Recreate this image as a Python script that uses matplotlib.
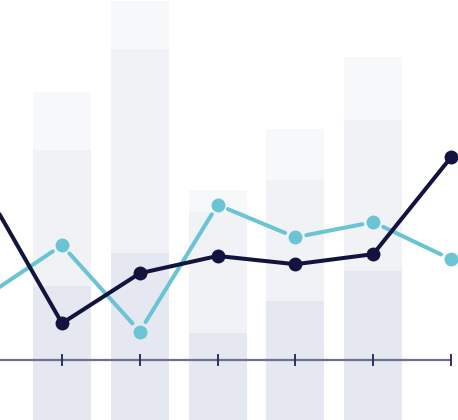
import numpy as np
import matplotlib.pyplot as plt

# positions: -1 sits just off the left edge
x = np.arange(-1, 6)
bar_x = np.arange(0, 5)

# stacked bars, values from a base of -20 (below the visible area)
base = -20
seg_low = [40.6, 49.6, 27.6, 36.5, 44.7]
seg_mid = [37.7, 56.8, 33.5, 33.5, 42.0]
seg_top = [16.1, 13.3, 6.1, 14.1, 17.6]

dark = [47.9, 10.2, 24.1, 28.9, 26.6, 29.4, 56.3]
teal = [17.4, 31.9, 7.9, 43.1, 34.1, 38.3, 28.0]

tick_x = np.arange(0, 6)

c_dark = '#13133f'
c_teal = '#6ac4d4'
c_low, c_mid, c_top = '#e5e8f0', '#f1f2f6', '#f7f8f9'

fig = plt.figure(figsize=(4.58, 4.2), dpi=100)
ax = fig.add_axes([0, 0, 1, 1])
ax.set_xlim(-0.797, 5.09)
ax.set_ylim(-16.67, 100)
ax.axis('off')

w = 0.746
low = np.array(seg_low)
mid = np.array(seg_mid)
ax.bar(bar_x, low, w, bottom=base, color=c_low, zorder=1)
ax.bar(bar_x, mid, w, bottom=base + low, color=c_mid, zorder=1)
ax.bar(bar_x, seg_top, w, bottom=base + low + mid, color=c_top, zorder=1)

# baseline with ticks
ax.hlines(0, -1, 5, color='#6e7090', lw=1.6, zorder=2)
ax.vlines(tick_x, -1.6, 1.6, color='#23245a', lw=1.3, zorder=2)

# teal line: segments stop short of the markers
for i in range(len(x) - 1):
    ax.annotate('', xy=(x[i + 1], teal[i + 1]), xytext=(x[i], teal[i]),
                annotation_clip=False, zorder=3,
                arrowprops=dict(arrowstyle='-', color=c_teal, lw=2.9,
                                shrinkA=8, shrinkB=8))
ax.plot(x, teal, 'o', color=c_teal, ms=10, mec='none', zorder=3)

ax.plot(x, dark, '-o', color=c_dark, lw=2.9, ms=10, mec='none', zorder=4,
        solid_capstyle='butt')

fig.savefig('out.png', dpi=100)
